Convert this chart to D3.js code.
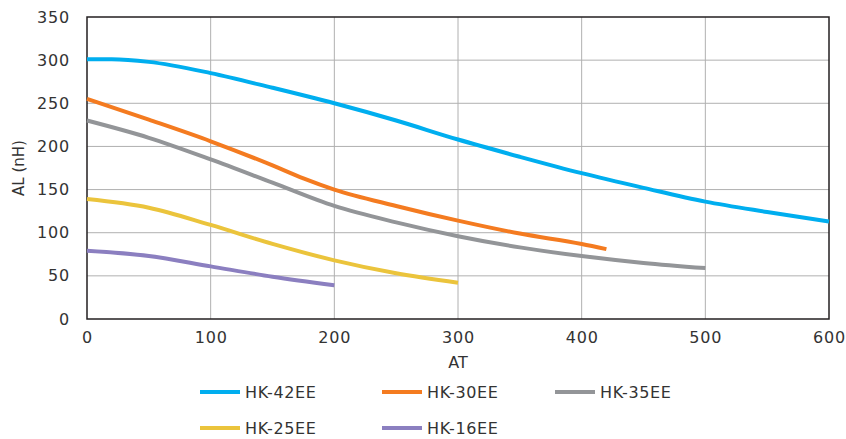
<!DOCTYPE html>
<html>
<head>
<meta charset="utf-8">
<script src="https://cdn.jsdelivr.net/npm/d3@7"></script>
<style>
body { margin: 0; background: #fff; }
text { font-family: "DejaVu Sans", sans-serif; fill: #333; }
</style>
</head>
<body>
<div id="chart"></div>
<script>
var W = 846, H = 439;

var xTicks = [0, 100, 200, 300, 400, 500, 600];
var yTicks = [0, 50, 100, 150, 200, 250, 300, 350];

var seriesNames = ["HK-42EE", "HK-30EE", "HK-35EE", "HK-25EE", "HK-16EE"];
var seriesColors = ["#00aeef", "#f47b20", "#939598", "#ebc43c", "#8b7fc0"];

var atHK42 = [0, 20, 50, 100, 150, 200, 250, 300, 350, 400, 450, 500, 550, 600];
var alHK42 = [301, 301, 298, 285, 268, 250, 230, 208, 188, 169, 152, 136, 124, 113];

var atHK30 = [0, 50, 100, 150, 175, 200, 250, 300, 350, 400, 420];
var alHK30 = [255, 231, 206, 178, 163, 150, 131, 114, 99, 87, 81];

var atHK35 = [0, 50, 100, 150, 200, 250, 300, 350, 400, 450, 500];
var alHK35 = [230, 210, 185, 158, 131, 112, 96, 83, 73, 65, 59];

var atHK25 = [0, 50, 100, 150, 200, 250, 300];
var alHK25 = [139, 129, 109, 87, 68, 53, 42];

var atHK16 = [0, 50, 100, 150, 200];
var alHK16 = [79, 73, 61, 49, 39];

var xs = [atHK42, atHK30, atHK35, atHK25, atHK16];
var ys = [alHK42, alHK30, alHK35, alHK25, alHK16];

var margin = { top: 17, right: 17, bottom: 120, left: 87 };
var plotW = W - margin.left - margin.right;
var plotH = H - margin.top - margin.bottom;

var svg = d3.select("#chart").append("svg")
	.attr("width", W).attr("height", H);

var inner = svg.append("g")
	.attr("transform", `translate(${margin.left},${margin.top})`);

var xScale = d3.scaleLinear().domain([0, 600]).range([0, plotW]);
var yScale = d3.scaleLinear().domain([0, 350]).range([plotH, 0]);

// grid
inner.append("g").selectAll("line")
	.data(xTicks.slice(1, -1)).enter().append("line")
	.attr("x1", d => xScale(d)).attr("x2", d => xScale(d))
	.attr("y1", 0).attr("y2", plotH)
	.attr("stroke", "#b0b0b0").attr("stroke-width", 1);
inner.append("g").selectAll("line")
	.data(yTicks.slice(1, -1)).enter().append("line")
	.attr("x1", 0).attr("x2", plotW)
	.attr("y1", d => yScale(d)).attr("y2", d => yScale(d))
	.attr("stroke", "#b0b0b0").attr("stroke-width", 1);

// axes
var xAxis = inner.append("g")
	.attr("transform", `translate(0,${plotH})`)
	.call(d3.axisBottom(xScale).tickValues(xTicks).tickSize(0).tickPadding(13));
var yAxis = inner.append("g")
	.call(d3.axisLeft(yScale).tickValues(yTicks).tickSize(0).tickPadding(17));
[xAxis, yAxis].forEach(a => {
	a.select(".domain").remove();
	a.selectAll("text")
		.style("font-family", "DejaVu Sans, sans-serif")
		.style("font-size", "16px").style("letter-spacing", "0.8px").style("fill", "#333");
});

// box
inner.append("rect")
	.attr("width", plotW).attr("height", plotH)
	.attr("fill", "none").attr("stroke", "#231f20").attr("stroke-width", 1.5);

// curves
var line = d3.line()
	.x(d => xScale(d[0])).y(d => yScale(d[1]))
	.curve(d3.curveMonotoneX);

seriesNames.forEach((name, i) => {
	var pts = xs[i].map((x, j) => [x, ys[i][j]]);
	inner.append("path")
		.datum(pts)
		.attr("d", line)
		.attr("fill", "none")
		.attr("stroke", seriesColors[i])
		.attr("stroke-width", 4);
});

// axis titles
svg.append("text")
	.attr("x", margin.left + plotW / 2).attr("y", 368)
	.attr("text-anchor", "middle")
	.style("font-size", "16px")
	.text("AT");
svg.append("text")
	.attr("transform", `translate(24,${margin.top + plotH / 2}) rotate(-90)`)
	.attr("text-anchor", "middle")
	.style("font-size", "15px")
	.text("AL (nH)");

// legend
var legendPos = [[200, 392], [382, 392], [555, 392], [200, 428], [382, 428]];
seriesNames.forEach((name, i) => {
	var g = svg.append("g").attr("transform", `translate(${legendPos[i][0]},${legendPos[i][1]})`);
	g.append("line").attr("x1", 0).attr("x2", 40)
		.attr("stroke", seriesColors[i]).attr("stroke-width", 4);
	g.append("text").attr("x", 45).attr("y", 6)
		.style("font-size", "16px").style("letter-spacing", "0.6px")
		.text(name);
});
</script>
</body>
</html>
